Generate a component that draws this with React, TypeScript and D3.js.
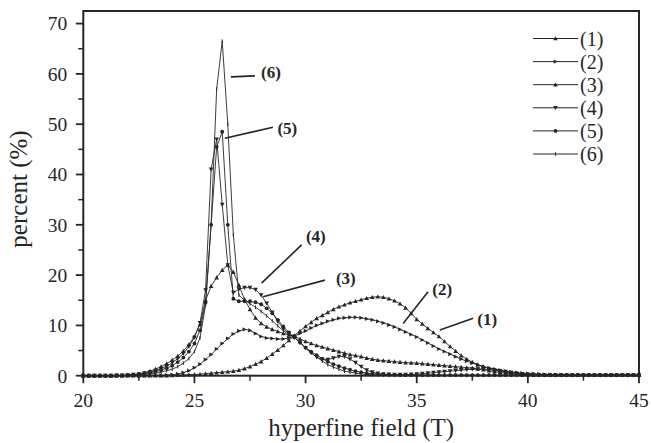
import React from "react";
import * as d3 from "d3";

// Sampling grid of the hyperfine field (T)
const FIELD_START = 20;
const FIELD_STEP = 0.25;

// Distribution values (%), one row per tesla: x.00, x.25, x.50, x.75
const series1 = [
  0, 0, 0, 0,
  0, 0, 0, 0,
  0, 0, 0, 0,
  0, 0, 0, 0,
  0.05, 0.1, 0.15, 0.2,
  0.25, 0.3, 0.4, 0.5,
  0.6, 0.7, 0.8, 0.9,
  1.1, 1.4, 1.8, 2.3,
  2.8, 3.5, 4.3, 5.1,
  6.0, 7.0, 8.0, 8.9,
  9.8, 10.6, 11.4, 12.0,
  12.6, 13.2, 13.7, 14.1,
  14.5, 14.8, 15.1, 15.4,
  15.6, 15.7, 15.6, 15.3,
  14.9, 14.3, 13.5, 12.4,
  11.2, 10.3, 9.4, 8.6,
  7.8, 6.8, 5.8, 4.9,
  4.0, 3.3, 2.7, 2.2,
  1.8, 1.5, 1.2, 0.95,
  0.75, 0.6, 0.5, 0.4,
  0.35, 0.3, 0.25, 0.2,
  0.2, 0.15, 0.15, 0.1,
  0.1, 0.1, 0.1, 0.1,
  0.1, 0.1, 0.1, 0.1,
  0.1, 0.1, 0.1, 0.1,
  0.1,
];

const series2 = [
  0, 0, 0, 0,
  0, 0, 0, 0,
  0, 0, 0, 0.05,
  0.05, 0.1, 0.1, 0.15,
  0.2, 0.35, 0.6, 1.0,
  1.6, 2.3, 3.2, 4.2,
  5.3, 6.4, 7.4, 8.3,
  8.9, 9.2, 9.0, 8.4,
  7.8, 7.5, 7.4, 7.3,
  7.3, 7.5, 7.9, 8.4,
  8.9, 9.5, 10.0, 10.4,
  10.8, 11.1, 11.4, 11.5,
  11.6, 11.6, 11.5, 11.3,
  11.1, 10.8, 10.5, 10.1,
  9.7, 9.2, 8.7, 8.2,
  7.7, 7.1, 6.5, 5.9,
  5.3, 4.8, 4.3, 3.8,
  3.3, 2.9, 2.5, 2.1,
  1.8, 1.5, 1.3, 1.1,
  0.9, 0.75, 0.6, 0.5,
  0.4, 0.35, 0.3, 0.25,
  0.2, 0.2, 0.15, 0.15,
  0.1, 0.1, 0.1, 0.1,
  0.1, 0.1, 0.1, 0.1,
  0.1, 0.1, 0.1, 0.1,
  0.1,
];

const series3 = [
  0, 0, 0, 0,
  0, 0, 0.05, 0.05,
  0.1, 0.2, 0.4, 0.6,
  0.9, 1.3, 1.8, 2.4,
  3.1, 3.9, 4.9, 6.2,
  7.8, 10.2, 15.0, 17.8,
  19.5, 21.0, 22.0, 20.6,
  18.0, 15.2, 13.2, 11.5,
  10.4, 9.7, 9.2, 8.8,
  8.4, 8.1, 7.8, 7.3,
  6.8, 6.4, 6.0, 5.7,
  5.4, 5.1, 4.8, 4.5,
  4.2, 4.0, 3.8, 3.5,
  3.3, 3.1, 3.0, 2.9,
  2.8, 2.7, 2.6, 2.55,
  2.5, 2.4, 2.3, 2.2,
  2.1, 2.0, 1.9, 1.8,
  1.7, 1.6, 1.5, 1.35,
  1.2, 1.0, 0.8, 0.65,
  0.5, 0.4, 0.3, 0.25,
  0.2, 0.15, 0.15, 0.1,
  0.1, 0.1, 0.1, 0.1,
  0.1, 0.1, 0.1, 0.1,
  0.1, 0.1, 0.1, 0.1,
  0.1, 0.1, 0.1, 0.1,
  0.1,
];

const series4 = [
  0, 0, 0, 0,
  0, 0, 0.05, 0.05,
  0.1, 0.2, 0.3, 0.5,
  0.7, 1.0, 1.4, 1.9,
  2.6, 3.4, 4.4, 5.8,
  7.6, 10.5, 17.0, 41.0,
  47.0, 34.0, 22.0, 16.5,
  17.2, 17.5, 17.5, 17.1,
  16.0, 14.4, 12.6, 10.8,
  9.3, 8.4, 7.6, 6.6,
  5.5, 4.5, 3.7, 3.2,
  3.2, 3.5, 3.8, 3.8,
  3.3, 2.6, 1.8, 1.1,
  0.7, 0.45, 0.3, 0.25,
  0.2, 0.2, 0.2, 0.25,
  0.3, 0.4, 0.5, 0.6,
  0.7, 0.8, 0.9, 1.0,
  1.1, 1.2, 1.3, 1.3,
  1.3, 1.25, 1.1, 0.95,
  0.8, 0.6, 0.45, 0.35,
  0.25, 0.2, 0.15, 0.1,
  0.1, 0.1, 0.1, 0.1,
  0.1, 0.1, 0.1, 0.1,
  0.1, 0.1, 0.1, 0.1,
  0.1, 0.1, 0.1, 0.1,
  0.1,
];

const series5 = [
  0, 0, 0, 0,
  0, 0, 0.05, 0.05,
  0.1, 0.15, 0.25, 0.4,
  0.6, 0.8, 1.1, 1.5,
  2.0, 2.7, 3.6, 4.8,
  6.4, 9.0, 14.5, 30.0,
  45.5, 48.5, 30.0, 15.3,
  14.8, 14.8, 14.8, 14.6,
  14.2, 13.4, 12.4, 11.1,
  9.8, 8.6, 7.6, 6.6,
  5.6, 4.8, 4.1, 3.4,
  2.8, 2.3, 1.9, 1.5,
  1.2, 0.9, 0.7, 0.5,
  0.4, 0.3, 0.25, 0.2,
  0.15, 0.1, 0.1, 0.1,
  0.1, 0.1, 0.1, 0.1,
  0.1, 0.1, 0.1, 0.1,
  0.1, 0.1, 0.1, 0.1,
  0.1, 0.1, 0.1, 0.1,
  0.1, 0.1, 0.1, 0.1,
  0.1, 0.1, 0.1, 0.1,
  0.1, 0.1, 0.1, 0.1,
  0.1, 0.1, 0.1, 0.1,
  0.1, 0.1, 0.1, 0.1,
  0.1, 0.1, 0.1, 0.1,
  0.1,
];

const series6 = [
  0, 0, 0, 0,
  0, 0, 0, 0,
  0.05, 0.1, 0.15, 0.25,
  0.35, 0.5, 0.7, 1.0,
  1.3, 1.8, 2.5, 3.4,
  4.8, 7.5, 14.0, 30.0,
  57.0, 66.5, 50.0, 28.0,
  16.0, 15.0, 14.3, 13.6,
  12.8, 11.9, 10.9, 9.9,
  8.9, 8.2, 7.6, 6.6,
  5.6, 4.6, 3.7, 2.9,
  2.2, 1.7, 1.3, 0.9,
  0.7, 0.5, 0.35, 0.25,
  0.2, 0.15, 0.1, 0.1,
  0.1, 0.1, 0.1, 0.1,
  0.1, 0.1, 0.1, 0.1,
  0.1, 0.1, 0.1, 0.1,
  0.1, 0.1, 0.1, 0.1,
  0.1, 0.1, 0.1, 0.1,
  0.1, 0.1, 0.1, 0.1,
  0.1, 0.1, 0.1, 0.1,
  0.1, 0.1, 0.1, 0.1,
  0.1, 0.1, 0.1, 0.1,
  0.1, 0.1, 0.1, 0.1,
  0.1, 0.1, 0.1, 0.1,
  0.1,
];

const seriesNames = ["(1)", "(2)", "(3)", "(4)", "(5)", "(6)"];
const seriesMarkers = ["triUp", "triRight", "triUp", "triDown", "circle", "tick"];
const allSeries = [series1, series2, series3, series4, series5, series6];

const xTicksMajor = [20, 25, 30, 35, 40, 45];
const xTicksMinor = [22.5, 27.5, 32.5, 37.5, 42.5];
const yTicksMajor = [0, 10, 20, 30, 40, 50, 60, 70];
const yTicksMinor = [5, 15, 25, 35, 45, 55, 65];

// Callout annotations in data units: leader from (x1,y1) to (x2,y2), label centred at (tx,ty)
const calloutLabels = ["(6)", "(5)", "(4)", "(3)", "(2)", "(1)"];
const calloutLeaders = [
  [26.64, 59.4, 27.72, 59.6],
  [26.37, 47.2, 28.53, 49.4],
  [28.02, 18.4, 29.82, 26.0],
  [28.09, 15.7, 30.87, 19.0],
  [34.39, 10.4, 35.51, 16.7],
  [36.04, 9.1, 37.54, 11.4],
];
const calloutText = [
  [28.44, 60.4],
  [29.18, 49.3],
  [30.46, 27.8],
  [31.81, 19.5],
  [36.15, 17.3],
  [38.17, 11.3],
];

const W = 651;
const H = 443;
const M = { left: 83.3, right: 651 - 639, top: 11, bottom: 443 - 375.7 };
const INK = "#262626";
const FONT = "'Liberation Serif', 'DejaVu Serif', serif";

function Marker({ kind, x, y }: { kind: string; x: number; y: number }) {
  const s = 2.3;
  if (kind === "triUp")
    return <path d={`M${x},${y - s} L${x + s},${y + s * 0.8} L${x - s},${y + s * 0.8}Z`} fill={INK} />;
  if (kind === "triDown")
    return <path d={`M${x},${y + s} L${x + s},${y - s * 0.8} L${x - s},${y - s * 0.8}Z`} fill={INK} />;
  if (kind === "triRight")
    return <path d={`M${x + s},${y} L${x - s * 0.8},${y - s * 0.9} L${x - s * 0.8},${y + s * 0.9}Z`} fill={INK} />;
  if (kind === "circle") return <circle cx={x} cy={y} r={1.9} fill={INK} />;
  return <line x1={x} x2={x} y1={y - 1.8} y2={y + 1.8} stroke={INK} strokeWidth={1} />;
}

export default function App() {
  const x = d3.scaleLinear().domain([20, 45]).range([M.left, W - M.right]);
  const y = d3.scaleLinear().domain([0, 72.5]).range([H - M.bottom, M.top]);
  const line = d3
    .line<number>()
    .x((_, i) => x(FIELD_START + i * FIELD_STEP))
    .y((v) => y(v));

  const x0 = x.range()[0];
  const x1 = x.range()[1];
  const y0 = y.range()[0];
  const y1 = y.range()[1];

  const legendX = 533;
  const legendY0 = 38.5;
  const legendDy = 23.1;

  return (
    <div style={{ position: "absolute", left: 0, top: 0 }}>
      <svg width={W} height={H} style={{ display: "block", background: "#fff" }} fontFamily={FONT}>
        {/* series */}
        {allSeries.map((vals, si) => (
          <g key={si}>
            <path d={line(vals) || ""} fill="none" stroke={INK} strokeWidth={0.9} />
            {vals.map((v, i) => (
              <Marker key={i} kind={seriesMarkers[si]} x={x(FIELD_START + i * FIELD_STEP)} y={y(v)} />
            ))}
          </g>
        ))}

        {/* frame */}
        <rect x={x0} y={y1} width={x1 - x0} height={y0 - y1} fill="none" stroke={INK} strokeWidth={2} />

        {/* x ticks */}
        {xTicksMajor.map((t) => (
          <g key={"xm" + t}>
            <line x1={x(t)} x2={x(t)} y1={y0} y2={y0 + 7.5} stroke={INK} strokeWidth={1.8} />
            <text x={x(t)} y={y0 + 31} textAnchor="middle" fontSize={19.5} fill={INK}>
              {t}
            </text>
          </g>
        ))}
        {xTicksMinor.map((t) => (
          <line key={"xn" + t} x1={x(t)} x2={x(t)} y1={y0} y2={y0 + 5} stroke={INK} strokeWidth={1.5} />
        ))}

        {/* y ticks */}
        {yTicksMajor.map((t) => (
          <g key={"ym" + t}>
            <line x1={x0 - 7.5} x2={x0} y1={y(t)} y2={y(t)} stroke={INK} strokeWidth={1.8} />
            <text x={x0 - 16} y={y(t)} dy="0.35em" textAnchor="end" fontSize={19.5} fill={INK}>
              {t}
            </text>
          </g>
        ))}
        {yTicksMinor.map((t) => (
          <line key={"yn" + t} x1={x0 - 5} x2={x0} y1={y(t)} y2={y(t)} stroke={INK} strokeWidth={1.5} />
        ))}

        {/* axis titles */}
        <text x={(x0 + x1) / 2} y={436} textAnchor="middle" fontSize={25} fill={INK}>
          hyperfine field (T)
        </text>
        <text
          transform={`translate(27,189) rotate(-90)`}
          textAnchor="middle"
          fontSize={25}
          fill={INK}
        >
          percent (%)
        </text>

        {/* legend */}
        {seriesNames.map((name, i) => {
          const ly = legendY0 + i * legendDy;
          return (
            <g key={name}>
              <line x1={legendX} x2={legendX + 45} y1={ly} y2={ly} stroke={INK} strokeWidth={1} />
              <Marker kind={seriesMarkers[i]} x={legendX + 22.5} y={ly} />
              <text x={legendX + 47} y={ly} dy="0.35em" fontSize={20} fill={INK}>
                {name}
              </text>
            </g>
          );
        })}

        {/* callouts */}
        {calloutLabels.map((lab, i) => {
          const [a, b, c, d] = calloutLeaders[i];
          const [tx, ty] = calloutText[i];
          return (
            <g key={lab}>
              <line x1={x(a)} y1={y(b)} x2={x(c)} y2={y(d)} stroke={INK} strokeWidth={1.6} />
              <text x={x(tx)} y={y(ty)} dy="0.35em" textAnchor="middle" fontSize={17} fontWeight="bold" fill={INK}>
                {lab}
              </text>
            </g>
          );
        })}
      </svg>
    </div>
  );
}
